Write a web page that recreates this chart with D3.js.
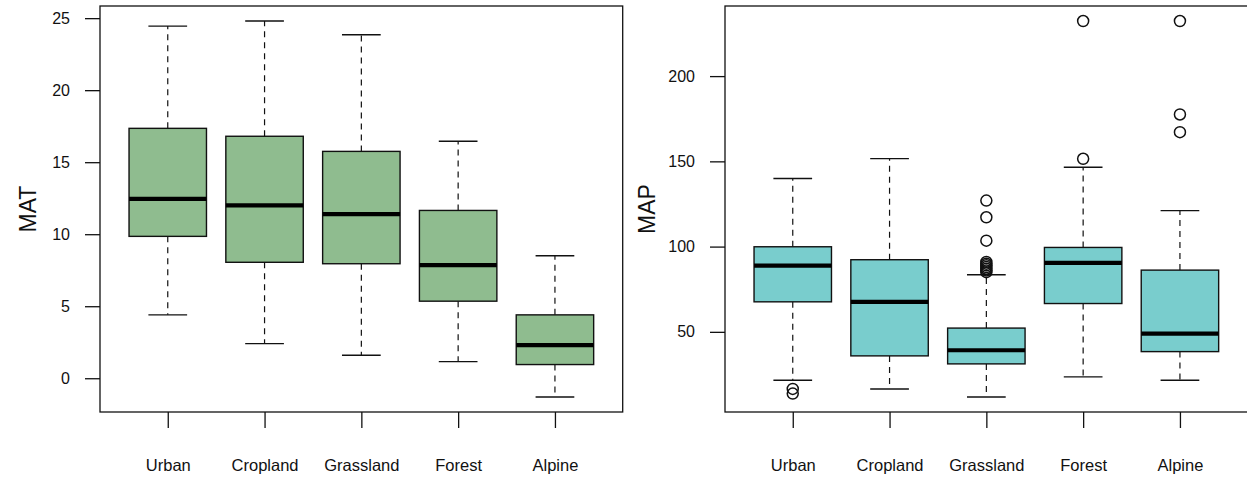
<!DOCTYPE html>
<html>
<head>
<meta charset="utf-8">
<script src="https://cdn.jsdelivr.net/npm/d3@7"></script>
<style>
  html, body { margin: 0; padding: 0; background: #fff; }
  svg { display: block; font-family: "Liberation Sans", Arial, Helvetica, sans-serif; }
</style>
</head>
<body>
<svg id="chart" width="1247" height="478"></svg>
<script>
// ---------- data ----------
const categories = ["Urban", "Cropland", "Grassland", "Forest", "Alpine"];

// MAT (left panel)
const matLow  = [4.4, 2.4, 1.6, 1.15, -1.3];
const matQ1   = [9.85, 8.05, 7.95, 5.35, 0.95];
const matMed  = [12.45, 12.0, 11.4, 7.85, 2.3];
const matQ3   = [17.35, 16.8, 15.75, 11.65, 4.4];
const matHigh = [24.45, 24.8, 23.85, 16.45, 8.5];
const matOut  = [[], [], [], [], []];
const matTicks = [0, 5, 10, 15, 20, 25];

// MAP (right panel)
const mapLow  = [21.6, 16.5, 11.8, 23.6, 21.6];
const mapQ1   = [67.6, 35.9, 31.2, 66.6, 38.4];
const mapMed  = [88.8, 67.6, 39.2, 90.5, 49.0];
const mapQ3   = [99.9, 92.3, 52.2, 99.5, 86.2];
const mapHigh = [139.9, 151.6, 83.5, 146.5, 121.1];
const mapOut  = [[16.5, 13.8], [], [127, 117.2, 103.5, 91, 90, 89, 88, 87, 86, 85], [232.3, 151.5], [232.3, 177.5, 167.1]];
const mapTicks = [50, 100, 150, 200];

// ---------- drawing ----------
const svg = d3.select("#chart");
const FONT = "Liberation Sans, Arial, Helvetica, sans-serif";

function panel(opts) {
  const { left, right, top, bottom, low, q1, med, q3, high, out, ticks, title, fill, titleX } = opts;
  const g = svg.append("g");

  const x = d3.scaleLinear().domain([0.3, categories.length + 0.7]).range([left, right]);
  const allVals = low.concat(high, out.flat());
  const mn = d3.min(allVals), mx = d3.max(allVals);
  const pad = (mx - mn) * 0.04;
  const y = d3.scaleLinear().domain([mn - pad, mx + pad]).range([bottom, top]);

  const unit = x(2) - x(1);
  const boxW = unit * 0.8;
  const capW = boxW * 0.5;

  const data = categories.map((c, i) => ({
    c, i: i + 1, low: low[i], q1: q1[i], med: med[i], q3: q3[i], high: high[i], out: out[i]
  }));

  const bx = g.selectAll("g.box").data(data).enter().append("g").attr("class", "box");

  // whiskers (dashed)
  bx.append("line")
    .attr("x1", d => x(d.i)).attr("x2", d => x(d.i))
    .attr("y1", d => y(d.q3)).attr("y2", d => y(d.high))
    .attr("stroke", "#111").attr("stroke-width", 1.2).attr("stroke-dasharray", "6,5");
  bx.append("line")
    .attr("x1", d => x(d.i)).attr("x2", d => x(d.i))
    .attr("y1", d => y(d.q1)).attr("y2", d => y(d.low))
    .attr("stroke", "#111").attr("stroke-width", 1.2).attr("stroke-dasharray", "6,5");
  // caps
  bx.append("line")
    .attr("x1", d => x(d.i) - capW / 2).attr("x2", d => x(d.i) + capW / 2)
    .attr("y1", d => y(d.high)).attr("y2", d => y(d.high))
    .attr("stroke", "#111").attr("stroke-width", 1.4);
  bx.append("line")
    .attr("x1", d => x(d.i) - capW / 2).attr("x2", d => x(d.i) + capW / 2)
    .attr("y1", d => y(d.low)).attr("y2", d => y(d.low))
    .attr("stroke", "#111").attr("stroke-width", 1.4);
  // box
  bx.append("rect")
    .attr("x", d => x(d.i) - boxW / 2).attr("width", boxW)
    .attr("y", d => y(d.q3)).attr("height", d => y(d.q1) - y(d.q3))
    .attr("fill", fill).attr("stroke", "#111").attr("stroke-width", 1.4);
  // median
  bx.append("line")
    .attr("x1", d => x(d.i) - boxW / 2).attr("x2", d => x(d.i) + boxW / 2)
    .attr("y1", d => y(d.med)).attr("y2", d => y(d.med))
    .attr("stroke", "#000").attr("stroke-width", 4.2);
  // outliers
  bx.selectAll("circle").data(d => d.out.map(v => ({ i: d.i, v }))).enter().append("circle")
    .attr("cx", d => x(d.i)).attr("cy", d => y(d.v)).attr("r", 5.5)
    .attr("fill", "none").attr("stroke", "#111").attr("stroke-width", 1.5);

  // frame
  g.append("rect")
    .attr("x", left).attr("y", top).attr("width", right - left).attr("height", bottom - top)
    .attr("fill", "none").attr("stroke", "#111").attr("stroke-width", 1.3);

  // y axis
  const ya = g.append("g").attr("transform", `translate(${left},0)`)
    .call(d3.axisLeft(y).tickValues(ticks).tickSize(15).tickPadding(15).tickFormat(d3.format("d")));
  ya.select(".domain").remove();
  ya.selectAll("line").attr("stroke", "#111").attr("stroke-width", 1.3);
  ya.selectAll("text").attr("font-size", 16).attr("font-family", FONT).attr("fill", "#111");

  // x axis
  const xa = g.append("g").attr("transform", `translate(0,${bottom})`)
    .call(d3.axisBottom(x).tickValues(data.map(d => d.i)).tickSize(16).tickPadding(0)
      .tickFormat((d, k) => categories[k]));
  xa.select(".domain").remove();
  xa.selectAll("line").attr("stroke", "#111").attr("stroke-width", 1.3);
  xa.selectAll("text").attr("font-size", 16.5).attr("font-family", FONT).attr("fill", "#111")
    .attr("dy", null).attr("y", 58.5);

  // y title
  g.append("text")
    .attr("transform", `translate(${titleX},${(top + bottom) / 2}) rotate(-90)`)
    .attr("text-anchor", "middle")
    .attr("font-size", 23).attr("font-family", FONT).attr("fill", "#111")
    .text(title);
}

panel({ left: 100, right: 622.7, top: 6, bottom: 412,
  low: matLow, q1: matQ1, med: matMed, q3: matQ3, high: matHigh, out: matOut,
  ticks: matTicks, title: "MAT", fill: "#8FBC8F", titleX: 36 });

panel({ left: 725, right: 1247.7, top: 6, bottom: 412,
  low: mapLow, q1: mapQ1, med: mapMed, q3: mapQ3, high: mapHigh, out: mapOut,
  ticks: mapTicks, title: "MAP", fill: "#79CDCD", titleX: 655 });
</script>
</body>
</html>
